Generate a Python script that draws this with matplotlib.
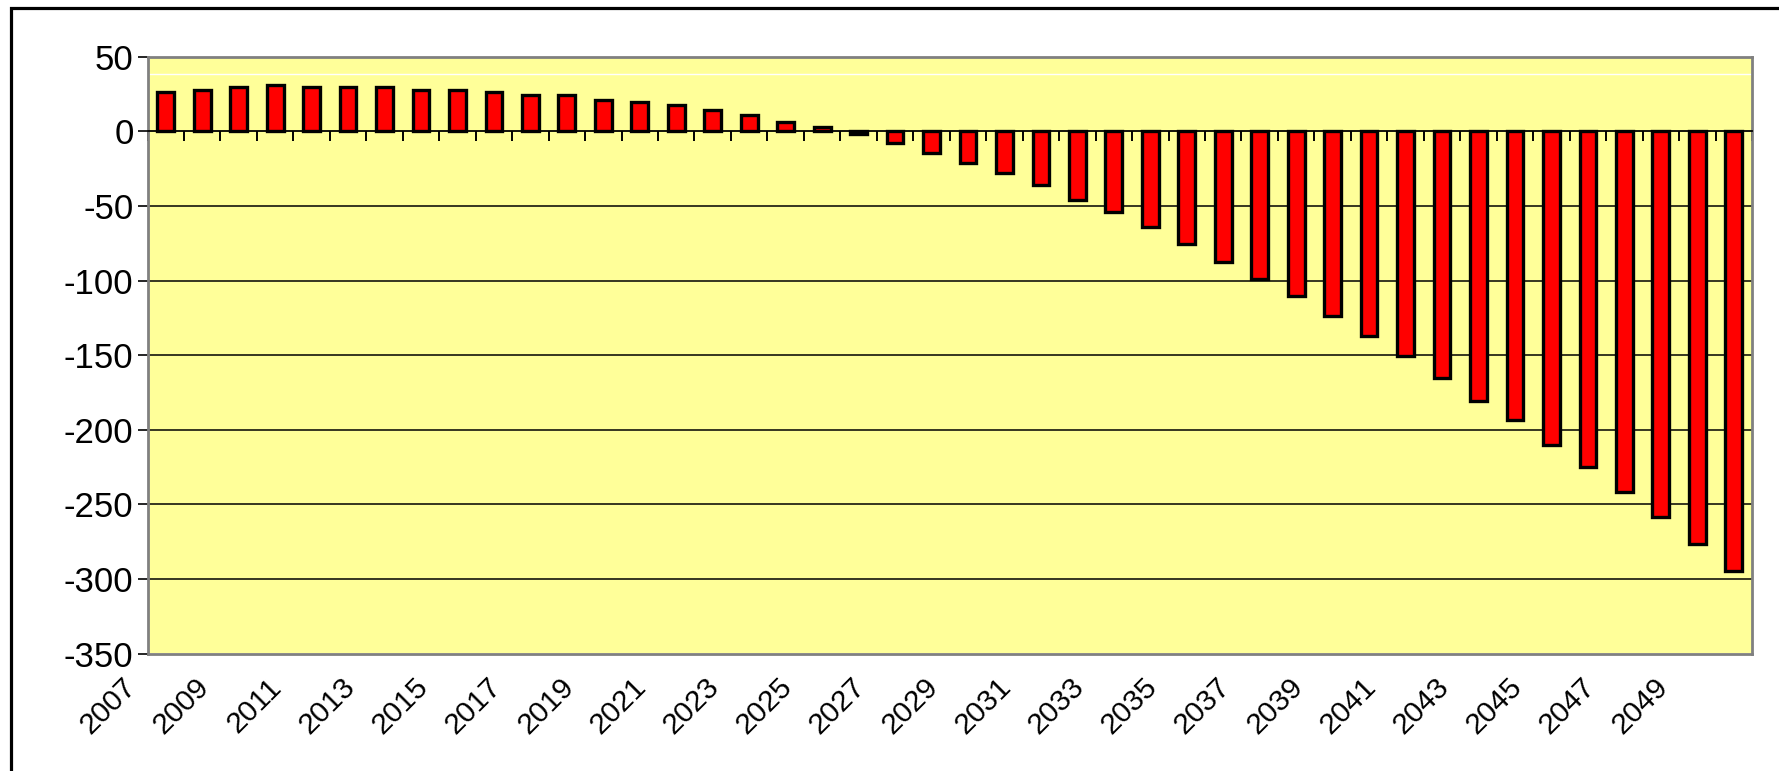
import numpy as np
import matplotlib
matplotlib.use("Agg")
import matplotlib.pyplot as plt
from matplotlib.patches import Rectangle
from matplotlib.transforms import ScaledTranslation

plt.rcParams["font.family"] = ["Liberation Sans", "DejaVu Sans"]
plt.rcParams["axes.unicode_minus"] = False

# yearly balance
years = list(range(2007, 2051))
values = [
    26.2, 27.7, 29.5, 31.1, 29.5, 29.5, 29.5, 27.7, 27.7, 26.2,
    24.4, 24.4, 21.0, 19.5, 17.7, 14.3, 11.2, 6.0, 2.7, -1.5,
    -8.0, -14.3, -21.0, -27.7, -36.0, -46.1, -54.4, -64.2, -75.8, -87.5,
    -99.3, -110.5, -124.0, -137.2, -150.6, -165.5, -180.5, -193.8, -210.3, -224.9,
    -241.7, -258.3, -276.4, -295.0,
]
y_ticks = [50, 0, -50, -100, -150, -200, -250, -300, -350]
label_years = years[::2]

W, H = 1779, 771
fig = plt.figure(figsize=(W / 100, H / 100), dpi=100)
fig.patch.set_facecolor("white")

# outer chart frame (right/bottom edges fall outside the picture)
fig.patches.append(Rectangle((11 / W, -0.2), 1.5, 1.2 - 8 / H,
                             transform=fig.transFigure, fill=False,
                             edgecolor="black", linewidth=2.3))

ax = fig.add_axes([147.5 / W, (H - 653.5) / H, (1752 - 147.5) / W, (653.5 - 56.7) / H])
ax.set_facecolor("#FFFF99")

x = np.arange(len(years))
ax.bar(x, values, width=0.46, color="#FF0000", edgecolor="black", linewidth=2.4, zorder=3)

ax.set_xlim(-0.5, len(years) - 0.5)
ax.set_ylim(-350, 50)
ax.set_yticks(y_ticks)
ax.set_yticklabels([str(v) for v in y_ticks])
for v in y_ticks[2:-1]:
    ax.axhline(v, color="black", linewidth=1.1, zorder=1)
ax.axhline(38.5, color="white", linewidth=1.0, zorder=1)

ax.tick_params(axis="y", direction="out", length=7, width=1.2, color="black",
               labelsize=25, pad=3)

for side in ("left", "top", "right"):
    ax.spines[side].set_color("#808080")
    ax.spines[side].set_linewidth(2.0)
ax.spines["bottom"].set_position(("data", 0))
ax.spines["bottom"].set_color("black")
ax.spines["bottom"].set_linewidth(1.3)
ax.spines["bottom"].set_zorder(4)

# category tick marks on the zero line
ax.set_xticks(np.arange(-0.5, len(years), 1))
ax.tick_params(axis="x", direction="out", length=7, width=1.4, color="black",
               labelbottom=False)

# year labels along the bottom of the plot area
sec = ax.secondary_xaxis("bottom")
sec.set_xticks(x[::2])
sec.set_xticklabels([str(y) for y in label_years])
sec.spines["bottom"].set_color("#808080")
sec.spines["bottom"].set_linewidth(2.0)
sec.tick_params(axis="x", length=0, labelsize=21.5, pad=14)
shift = ScaledTranslation(-0.44, 0, fig.dpi_scale_trans)
for lab in sec.get_xticklabels():
    lab.set_rotation(45)
    lab.set_ha("right")
    lab.set_va("top")
    lab.set_rotation_mode("anchor")
    lab.set_transform(lab.get_transform() + shift)

fig.savefig("out.png", dpi=100)
